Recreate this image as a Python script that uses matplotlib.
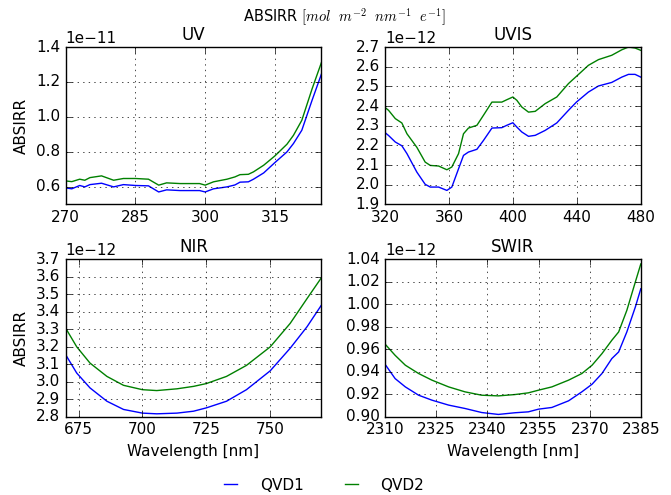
import numpy as np
import matplotlib
matplotlib.use("Agg")
import matplotlib.pyplot as plt

# wavelengths [nm] and irradiance
uv_wl = [270, 271.3, 273, 274.1, 275.2, 277.7, 280.3, 282.4, 285, 287.8, 290, 291.7, 294.6, 298.8,
         300, 301.8, 304.7, 306.4, 307.5, 309.3, 310.4, 312.6, 315, 317.6, 319, 320.8, 323, 325]
uv_qvd1 = [0.594, 0.589, 0.608, 0.600, 0.613, 0.621, 0.600, 0.613, 0.608, 0.606, 0.571, 0.583, 0.579, 0.579,
           0.571, 0.589, 0.600, 0.611, 0.627, 0.629, 0.644, 0.680, 0.739, 0.800, 0.848, 0.924, 1.095, 1.244]
uv_qvd2 = [0.634, 0.630, 0.644, 0.638, 0.653, 0.663, 0.638, 0.648, 0.648, 0.644, 0.610, 0.623, 0.619, 0.619,
           0.610, 0.629, 0.644, 0.657, 0.670, 0.672, 0.686, 0.724, 0.777, 0.844, 0.895, 0.981, 1.160, 1.310]

uvis_wl = [320, 322.1, 326.3, 330.4, 333.6, 339.8, 345, 348.2, 353.4, 358.6, 361.7, 365.9, 369, 372.1,
           377.4, 381.5, 386.8, 393, 396.1, 399.9, 402.4, 405.5, 409.7, 413.9, 420.1, 427.4, 434.7,
           439.7, 447.2, 453.5, 461.8, 468.1, 472.3, 476.4, 480]
uvis_qvd1 = [2.264, 2.250, 2.217, 2.198, 2.158, 2.064, 2.002, 1.988, 1.988, 1.971, 1.988, 2.081, 2.149, 2.166,
             2.180, 2.225, 2.288, 2.290, 2.302, 2.315, 2.293, 2.268, 2.246, 2.251, 2.276, 2.314, 2.378,
             2.420, 2.471, 2.502, 2.520, 2.547, 2.561, 2.561, 2.547]
uvis_qvd2 = [2.392, 2.378, 2.336, 2.314, 2.259, 2.190, 2.115, 2.098, 2.095, 2.076, 2.090, 2.158, 2.259, 2.288,
             2.302, 2.353, 2.420, 2.420, 2.432, 2.446, 2.429, 2.395, 2.369, 2.373, 2.412, 2.446, 2.514,
             2.551, 2.607, 2.636, 2.658, 2.686, 2.700, 2.695, 2.683]

nir_wl = [670, 674.3, 679.5, 686.1, 692.6, 700, 705.6, 713.5, 720, 725, 732.9, 740.7, 750, 757.8, 764.4, 770]
nir_qvd1 = [3.154, 3.050, 2.965, 2.889, 2.842, 2.821, 2.817, 2.821, 2.832, 2.851, 2.889, 2.955, 3.063, 3.192, 3.315, 3.438]
nir_qvd2 = [3.306, 3.200, 3.107, 3.031, 2.980, 2.955, 2.950, 2.960, 2.974, 2.990, 3.031, 3.094, 3.200, 3.334, 3.476, 3.595]

swir_wl = [2310, 2312.9, 2315.9, 2319.8, 2323.7, 2328.6, 2333.4, 2338.3, 2343.2, 2348.1, 2352, 2355,
           2358.9, 2363.8, 2367.7, 2370.7, 2373.6, 2376.5, 2378.5, 2380.9, 2383.4, 2385]
swir_qvd1 = [0.9465, 0.9340, 0.9266, 0.9192, 0.9148, 0.9104, 0.9074, 0.9038, 0.9021, 0.9036, 0.9044, 0.9068,
             0.9083, 0.9142, 0.9222, 0.9290, 0.9385, 0.9518, 0.9577, 0.9755, 0.9977, 1.0139]
swir_qvd2 = [0.9645, 0.9547, 0.9459, 0.9385, 0.9326, 0.9266, 0.9222, 0.9192, 0.9186, 0.9198, 0.9213, 0.9237,
             0.9266, 0.9326, 0.9385, 0.9459, 0.9562, 0.9681, 0.9755, 0.9947, 1.0200, 1.0360]

uv_xticks = [270, 285, 300, 315]
uvis_xticks = [320, 360, 400, 440, 480]
nir_xticks = [675, 700, 725, 750]
swir_xticks = [2310, 2325, 2340, 2355, 2370, 2385]

plt.style.use("classic")
plt.rcParams["font.size"] = 11
plt.rcParams["mathtext.fontset"] = "cm"

fig, axes = plt.subplots(2, 2, figsize=(6.71, 4.95), dpi=100, facecolor="white")
fig.subplots_adjust(left=0.098, right=0.955, top=0.905, bottom=0.158, wspace=0.25, hspace=0.35)

panels = [
    ("UV", uv_wl, uv_qvd1, uv_qvd2, 1e-11, (270, 325), (0.5, 1.4), uv_xticks, np.arange(0.6, 1.41, 0.2)),
    ("UVIS", uvis_wl, uvis_qvd1, uvis_qvd2, 1e-12, (320, 480), (1.9, 2.7), uvis_xticks, np.arange(1.9, 2.71, 0.1)),
    ("NIR", nir_wl, nir_qvd1, nir_qvd2, 1e-12, (670, 770), (2.8, 3.7), nir_xticks, np.arange(2.8, 3.71, 0.1)),
    ("SWIR", swir_wl, swir_qvd1, swir_qvd2, 1e-12, (2310, 2385), (0.90, 1.04), swir_xticks, np.arange(0.90, 1.041, 0.02)),
]

for ax, (name, wl, q1, q2, scale, xlim, ylim, xt, yt) in zip(axes.flat, panels):
    l1, = ax.plot(wl, np.array(q1) * scale, color="b", lw=1.0, label="QVD1")
    l2, = ax.plot(wl, np.array(q2) * scale, color="g", lw=1.0, label="QVD2")
    ax.set_xlim(*xlim)
    ax.set_ylim(ylim[0] * scale, ylim[1] * scale)
    ax.set_xticks(xt)
    ax.set_yticks(yt * scale)
    ax.ticklabel_format(axis="x", useOffset=False, style="plain")
    ax.grid(True, linestyle=":", color="k", linewidth=0.5)
    ax.set_title(name, fontsize=12)
    ax.tick_params(labelsize=11)
    ax.yaxis.get_offset_text().set_fontsize(11)

axes[0, 0].set_ylabel("ABSIRR", fontsize=11)
axes[1, 0].set_ylabel("ABSIRR", fontsize=11)
axes[1, 0].set_xlabel("Wavelength [nm]", fontsize=11)
axes[1, 1].set_xlabel("Wavelength [nm]", fontsize=11)

fig.text(0.513, 0.966, r"ABSIRR $[mol\ \ m^{-2}\ \ nm^{-1}\ \ e^{-1}]$", ha="center", va="center", fontsize=10.5)

fig.legend([l1, l2], ["QVD1", "QVD2"], loc="center", bbox_to_anchor=(0.48, 0.02), ncol=2,
           frameon=False, fontsize=11, handlelength=1.45, handletextpad=1.2, columnspacing=2.35)

fig.savefig("out.png", dpi=100, facecolor="white")
